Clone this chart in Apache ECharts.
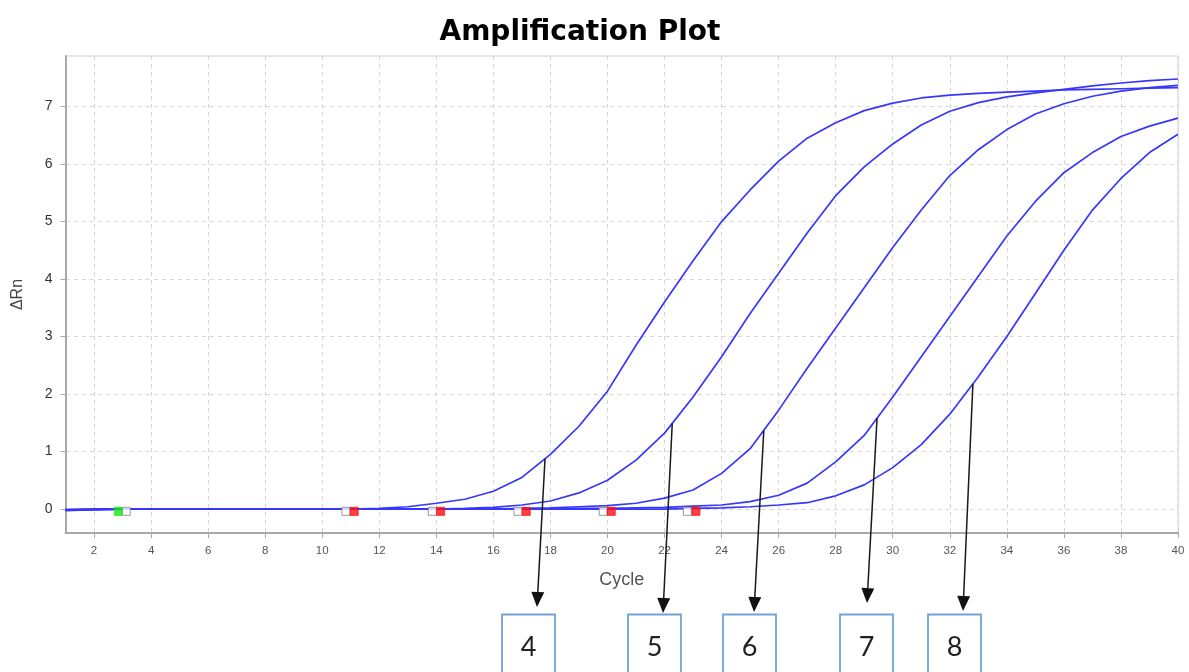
<!DOCTYPE html>
<html>
<head>
<meta charset="utf-8">
<script src="https://cdn.jsdelivr.net/npm/echarts@6/dist/echarts.min.js"></script>
<style>
  html, body { margin: 0; padding: 0; background: #ffffff; }
  #chart { width: 1189px; height: 672px; }
</style>
</head>
<body>
<div id="chart"></div>
<script>
// Cycle numbers (x values of every trace)
const cycles = [1,2,3,4,5,6,7,8,9,10,11,12,13,14,15,16,17,18,19,20,
                21,22,23,24,25,26,27,28,29,30,31,32,33,34,35,36,37,38,39,40];

// ΔRn per cycle for the five dilution wells
const wellA = [-0.03,-0.01,0,0,0,0,0,0,0,0,0,0.01,0.04,0.10,0.17,0.31,0.55,0.95,1.44,2.05,
               2.85,3.60,4.32,5.00,5.55,6.05,6.45,6.72,6.93,7.06,7.15,7.20,7.23,7.25,7.27,7.29,7.30,7.31,7.32,7.33];
const wellB = [-0.02,-0.01,0,0,0,0,0,0,0,0,0,0,0,0,0.01,0.03,0.07,0.14,0.28,0.50,
               0.85,1.32,1.95,2.65,3.40,4.10,4.80,5.45,5.95,6.35,6.68,6.92,7.07,7.17,7.24,7.30,7.36,7.41,7.45,7.48];
const wellC = [-0.01,0,0,0,0,0,0,0,0,0,0,0,0,0,0,0,0.01,0.02,0.04,0.06,
               0.10,0.19,0.33,0.62,1.05,1.72,2.45,3.15,3.85,4.55,5.20,5.80,6.25,6.60,6.87,7.05,7.18,7.27,7.33,7.37];
const wellD = [-0.02,-0.01,0,0,0,0,0,0,0,0,0,0,0,0,0,0,0,0,0.01,0.01,
               0.02,0.03,0.05,0.07,0.13,0.24,0.45,0.82,1.28,1.95,2.65,3.35,4.05,4.75,5.35,5.85,6.20,6.48,6.66,6.80];
const wellE = [-0.01,0,0,0,0,0,0,0,0,0,0,0,0,0,0,0,0,0,0,0,
               0,0,0.01,0.02,0.04,0.07,0.11,0.23,0.42,0.72,1.12,1.65,2.30,3.00,3.75,4.50,5.20,5.75,6.20,6.52];
const wells = [wellA, wellB, wellC, wellD, wellE];

// Baseline start / end flags (cycle positions)
const baselineOpen  = [3.13, 10.83, 13.86, 16.86, 19.85, 22.80];
const baselineStart = [2.85];
const baselineEnd   = [11.12, 14.15, 17.15, 20.13, 23.10];
const flagLevel = -0.04;

// Axis ticks
const xTicks = [2,4,6,8,10,12,14,16,18,20,22,24,26,28,30,32,34,36,38,40];
const yTicks = [0,1,2,3,4,5,6,7];

// Callouts: label, well it points at, cycle where the arrow leaves the curve
const calloutLabels = ['4','5','6','7','8'];
const calloutWell   = [0,1,2,3,4];
const calloutCycle  = [17.81, 22.27, 25.48, 29.45, 32.81];

// Callout layout (pixels): box left edge, arrow tip
const calloutLayout = [
  { boxX: 502, tipX: 537, tipY: 607 },
  { boxX: 628, tipX: 663, tipY: 613 },
  { boxX: 723, tipX: 754, tipY: 612 },
  { boxX: 840, tipX: 867, tipY: 603 },
  { boxX: 928, tipX: 963, tipY: 611 }
];

const pairs = (xs, ys) => xs.map((x, i) => [x, ys[i]]);
const flags = xs => xs.map(x => [x, flagLevel]);

const chart = echarts.init(document.getElementById('chart'), null, { renderer: 'canvas' });

const lineSeries = wells.map((w, i) => ({
  name: 'well' + (i + 1),
  type: 'line',
  data: pairs(cycles, w),
  showSymbol: false,
  smooth: false,
  lineStyle: { color: '#3636ff', width: 1.7 },
  z: 3
}));

const flagSeries = [
  { data: flags(baselineOpen),  color: '#ffffff', border: '#808080' },
  { data: flags(baselineStart), color: '#19e619', border: '#19e619' },
  { data: flags(baselineEnd),   color: '#ff1010', border: '#ff1010' }
].map(f => ({
  type: 'scatter',
  data: f.data,
  symbol: 'rect',
  symbolSize: [8, 8],
  itemStyle: { color: f.color, borderColor: f.border, borderWidth: 1 },
  z: 5,
  silent: true
}));

chart.setOption({
  animation: false,
  backgroundColor: '#ffffff',
  title: {
    text: 'Amplification Plot',
    left: 580,
    top: 19,
    padding: 0,
    textAlign: 'center',
    textStyle: { fontFamily: 'DejaVu Sans', fontWeight: 'bold', fontSize: 28, color: '#000000' }
  },
  grid: {
    left: 65.5, right: 11, top: 56, bottom: 139,
    show: true, borderColor: '#cfcfcf', borderWidth: 1, backgroundColor: '#ffffff'
  },
  xAxis: {
    type: 'value',
    min: 1, max: 40,
    name: 'Cycle',
    nameLocation: 'middle',
    nameGap: 38,
    nameTextStyle: { fontFamily: 'Liberation Sans', fontSize: 18, color: '#555555' },
    axisLine: { show: true, onZero: false, lineStyle: { color: '#a8a8a8', width: 2 } },
    axisTick: { show: true, customValues: xTicks, length: 5, lineStyle: { color: '#a8a8a8' } },
    axisLabel: { customValues: xTicks, fontFamily: 'Liberation Sans', fontSize: 11.5, color: '#555555', margin: 12 },
    splitLine: { show: true, lineStyle: { color: '#d6d6d6', type: [4, 4], width: 1 } }
  },
  yAxis: {
    type: 'value',
    min: -0.417, max: 7.88,
    name: 'ΔRn',
    nameLocation: 'middle',
    nameRotate: 90,
    nameGap: 40,
    nameTextStyle: { fontFamily: 'Liberation Sans', fontSize: 16, color: '#444444' },
    axisLine: { show: true, onZero: false, lineStyle: { color: '#a8a8a8', width: 2 } },
    axisTick: { show: true, customValues: yTicks, length: 5, lineStyle: { color: '#a8a8a8' } },
    axisLabel: { customValues: yTicks, fontFamily: 'Liberation Sans', fontSize: 14, color: '#333333', margin: 13 },
    splitLine: { show: true, lineStyle: { color: '#d6d6d6', type: [4, 4], width: 1 } }
  },
  series: lineSeries.concat(flagSeries)
});

// ΔRn of a well at a fractional cycle (linear between readings)
function valueAt(well, c) {
  const i = Math.min(Math.floor(c) - cycles[0], cycles.length - 2);
  const t = c - cycles[i];
  return well[i] + (well[i + 1] - well[i]) * t;
}

// Arrows from each curve down to its numbered box
const elements = [];
calloutLabels.forEach((label, k) => {
  const c = calloutCycle[k];
  const start = chart.convertToPixel({ gridIndex: 0 }, [c, valueAt(wells[calloutWell[k]], c)]);
  const L = calloutLayout[k];
  const dx = L.tipX - start[0], dy = L.tipY - start[1];
  const len = Math.sqrt(dx * dx + dy * dy);
  const ux = dx / len, uy = dy / len;
  const headLen = 15, headHalf = 6.5;
  const bx = L.tipX - ux * headLen, by = L.tipY - uy * headLen;
  elements.push({
    type: 'line', silent: true, z: 10,
    shape: { x1: start[0], y1: start[1], x2: bx, y2: by },
    style: { stroke: '#1a1a1a', lineWidth: 1.5 }
  });
  elements.push({
    type: 'polygon', silent: true, z: 10,
    shape: { points: [[L.tipX, L.tipY], [bx - uy * headHalf, by + ux * headHalf], [bx + uy * headHalf, by - ux * headHalf]] },
    style: { fill: '#111111' }
  });
  elements.push({
    type: 'rect', silent: true, z: 10,
    shape: { x: L.boxX, y: 614.5, width: 53, height: 80 },
    style: { fill: '#ffffff', stroke: '#6fa3d8', lineWidth: 1.8 }
  });
  elements.push({
    type: 'text', silent: true, z: 11,
    x: L.boxX + 26.5, y: 647,
    style: { text: label, fontFamily: 'Lato', fontSize: 27, fill: '#222222', align: 'center', verticalAlign: 'middle' }
  });
});
chart.setOption({ graphic: { elements: elements } });
</script>
</body>
</html>
